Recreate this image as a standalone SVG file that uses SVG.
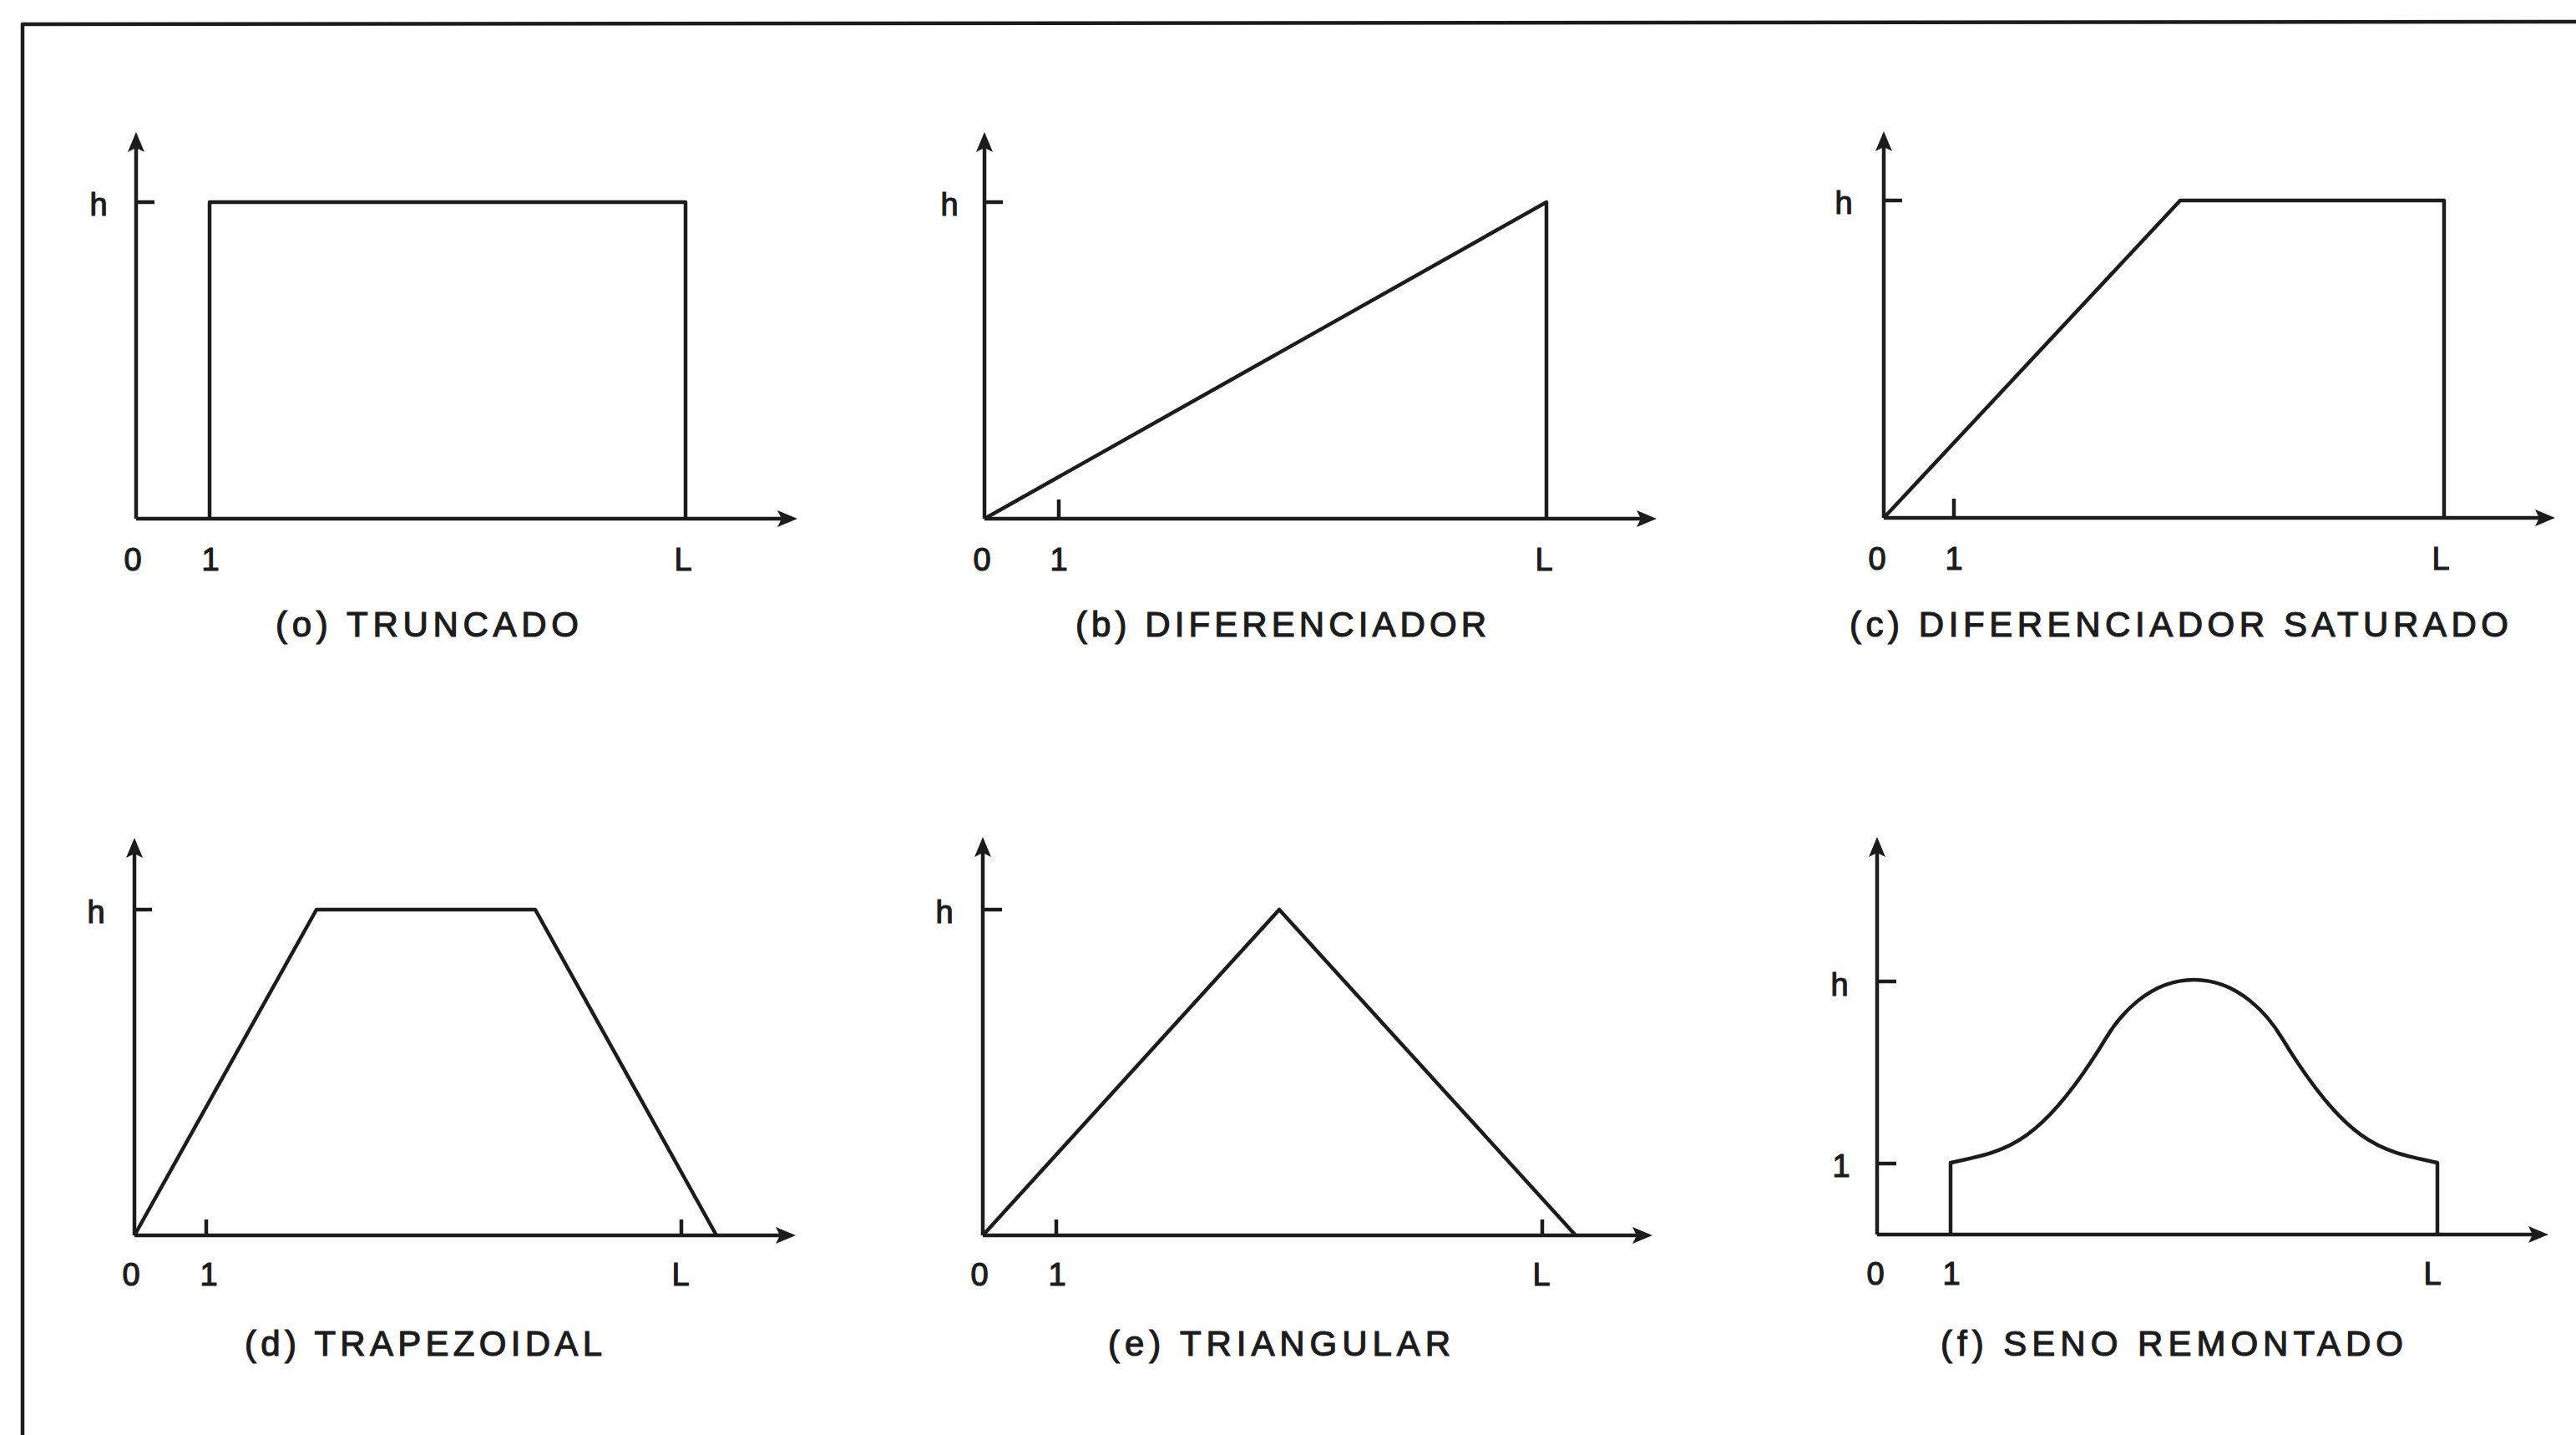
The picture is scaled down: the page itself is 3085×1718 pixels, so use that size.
<svg xmlns="http://www.w3.org/2000/svg" width="3085" height="1718" viewBox="0 0 3085 1718">
<style>
.ln{fill:none;stroke:#1c1c1c;stroke-width:4.5;stroke-linejoin:round;stroke-linecap:butt}
.ax{fill:none;stroke:#1c1c1c;stroke-width:4.5;marker-end:url(#arr)}
.lb{font-family:"Liberation Sans",Arial,sans-serif;font-size:38px;fill:#1c1c1c;stroke:#1c1c1c;stroke-width:1.2;text-anchor:middle}
.cap{font-family:"Liberation Sans",Arial,sans-serif;font-size:42px;fill:#1c1c1c;stroke:#1c1c1c;stroke-width:1.2}
</style>
<defs>
<marker id="arr" markerUnits="userSpaceOnUse" markerWidth="26" markerHeight="22" refX="14" refY="10" orient="auto">
<path d="M0,0 L24,10 L0,20 L5,10 z" fill="#1c1c1c"/>
</marker>
</defs>
<rect width="3085" height="1718" fill="#ffffff"/>
<g id="frame">
<path class="ln" d="M27,1718 V29 L3085,26" stroke-width="5"/>
</g>

<g id="panel-a">
<path class="ax" d="M163,621 V168"/>
<path class="ax" d="M163,621 H945"/>
<path class="ln" d="M163,242 H185"/>
<path class="ln" d="M251,621 V242 H821 V621"/>
<text class="lb" x="118" y="258">h</text>
<text class="lb" x="159" y="683">0</text>
<text class="lb" x="252" y="683">1</text>
<text class="lb" x="818" y="683">L</text>
<text class="cap" x="330" y="762" textLength="363" lengthAdjust="spacing">(o) TRUNCADO</text>
</g>

<g id="panel-b">
<path class="ax" d="M1179,621 V168"/>
<path class="ax" d="M1179,621 H1974"/>
<path class="ln" d="M1179,242 H1201"/>
<path class="ln" d="M1268,621 V598"/>
<path class="ln" d="M1179,621 L1852,242 V621"/>
<text class="lb" x="1137" y="258">h</text>
<text class="lb" x="1176" y="683">0</text>
<text class="lb" x="1268" y="683">1</text>
<text class="lb" x="1849" y="683">L</text>
<text class="cap" x="1288" y="762" textLength="492" lengthAdjust="spacing">(b) DIFERENCIADOR</text>
</g>

<g id="panel-c">
<path class="ax" d="M2256,620 V167"/>
<path class="ax" d="M2256,620 H3050"/>
<path class="ln" d="M2256,240 H2278"/>
<path class="ln" d="M2340,620 V597"/>
<path class="ln" d="M2256,620 L2611,240 H2927 V620"/>
<text class="lb" x="2208" y="256">h</text>
<text class="lb" x="2248" y="682">0</text>
<text class="lb" x="2340" y="682">1</text>
<text class="lb" x="2923" y="682">L</text>
<text class="cap" x="2215" y="762" textLength="789" lengthAdjust="spacing">(c) DIFERENCIADOR SATURADO</text>
</g>

<g id="panel-d">
<path class="ax" d="M161,1479 V1013"/>
<path class="ax" d="M161,1479 H943"/>
<path class="ln" d="M161,1089 H182"/>
<path class="ln" d="M247,1479 V1460"/>
<path class="ln" d="M816,1479 V1460"/>
<path class="ln" d="M161,1479 L379,1089 H641 L858,1479"/>
<text class="lb" x="115" y="1105">h</text>
<text class="lb" x="157" y="1539">0</text>
<text class="lb" x="250" y="1539">1</text>
<text class="lb" x="815" y="1539">L</text>
<text class="cap" x="293" y="1623" textLength="428" lengthAdjust="spacing">(d) TRAPEZOIDAL</text>
</g>

<g id="panel-e">
<path class="ax" d="M1177,1479 V1012"/>
<path class="ax" d="M1177,1479 H1969"/>
<path class="ln" d="M1177,1089 H1200"/>
<path class="ln" d="M1265,1479 V1460"/>
<path class="ln" d="M1847,1479 V1460"/>
<path class="ln" d="M1177,1479 L1532,1089 L1887,1479"/>
<text class="lb" x="1131" y="1105">h</text>
<text class="lb" x="1173" y="1539">0</text>
<text class="lb" x="1266" y="1539">1</text>
<text class="lb" x="1846" y="1539">L</text>
<text class="cap" x="1327" y="1623" textLength="410" lengthAdjust="spacing">(e) TRIANGULAR</text>
</g>

<g id="panel-f">
<path class="ax" d="M2248,1478 V1012"/>
<path class="ax" d="M2248,1478 H3042"/>
<path class="ln" d="M2248,1175 H2271"/>
<path class="ln" d="M2248,1393 H2271"/>
<path class="ln" d="M2336,1478 V1392 C2400,1378 2442,1375 2522,1243 C2537,1218 2572.5,1173 2627.5,1173 C2682.5,1173 2718,1218 2733,1243 C2813,1375 2855,1378 2919,1392 V1478"/>
<text class="lb" x="2203" y="1192">h</text>
<text class="lb" x="2205" y="1409">1</text>
<text class="lb" x="2246" y="1538">0</text>
<text class="lb" x="2337" y="1538">1</text>
<text class="lb" x="2913" y="1538">L</text>
<text class="cap" x="2324" y="1623" textLength="554" lengthAdjust="spacing">(f) SENO REMONTADO</text>
</g>
</svg>
